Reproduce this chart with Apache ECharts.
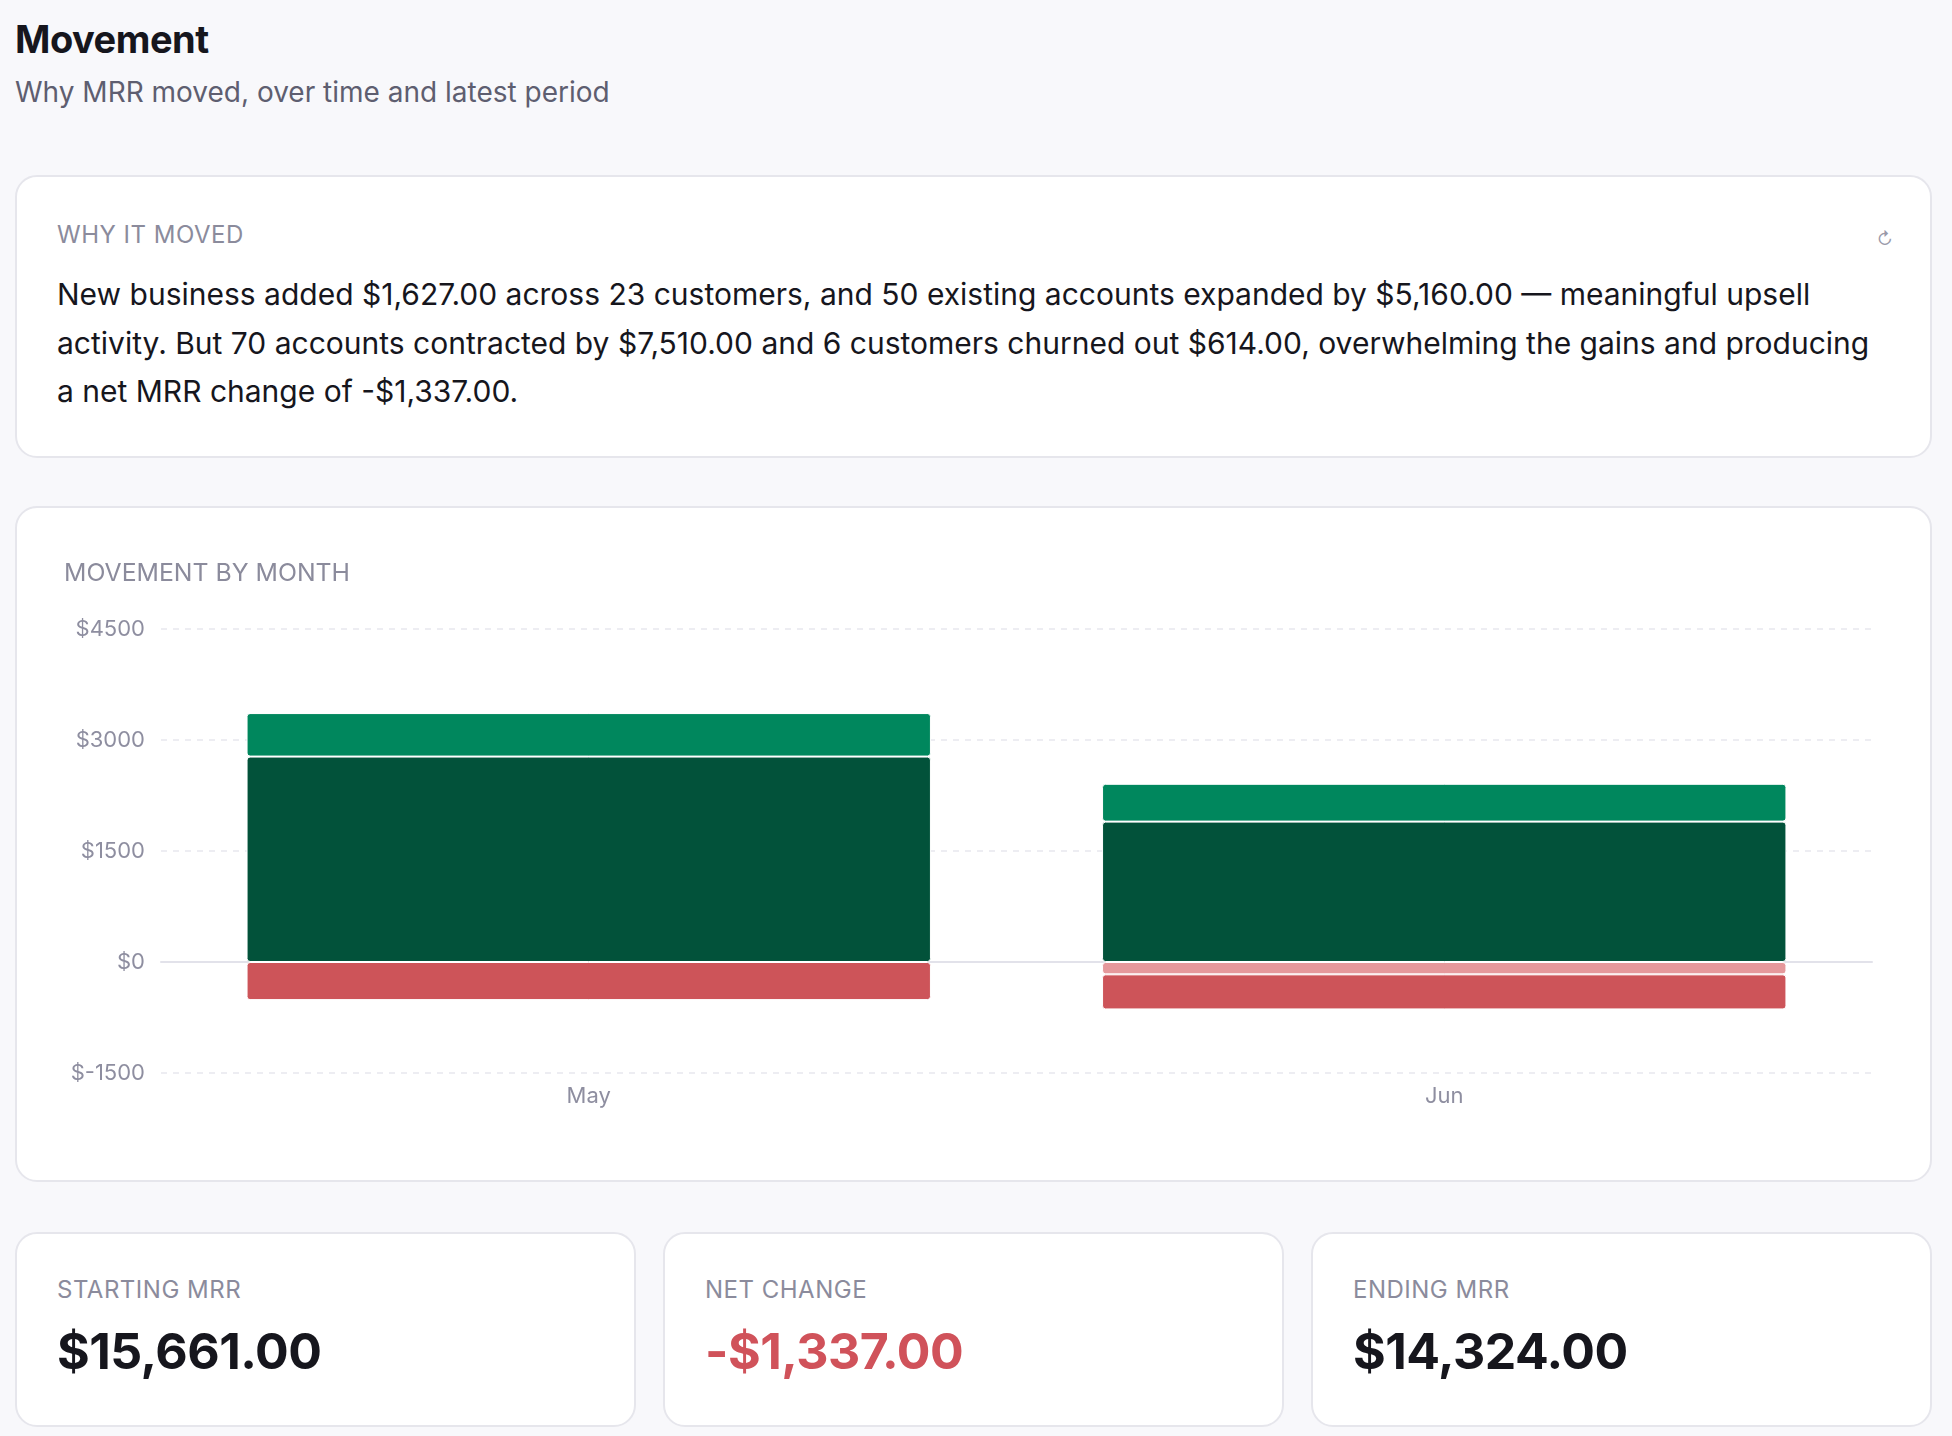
<!DOCTYPE html>
<html>
<head>
<meta charset="utf-8">
<script src="https://cdn.jsdelivr.net/npm/echarts@6/dist/echarts.min.js"></script>
<style>
  body { margin: 0; background: #f8f8fb; font-family: Inter, "Noto Sans", sans-serif; color: #16161d; }
  .page { padding: 0 20px 0 15px; }
  .title { font-size: 38px; font-weight: 700; line-height: 46px; padding-top: 16px; letter-spacing: -0.5px; }
  .subtitle { font-size: 28px; color: #5e5e70; line-height: 36px; margin-top: 12px; }
  .card { background: #fff; border: 2px solid #e6e6ec; border-radius: 22px; box-sizing: border-box; position: relative; }
  .why { height: 283px; margin-top: 65px; padding: 43px 40px 0 40px; }
  .label { font-size: 24px; color: #8b8b9c; letter-spacing: 0.5px; line-height: 30px; }
  .why p { margin: 20px 0 0 0; font-size: 30px; line-height: 48.5px; color: #16161d; }
  .refresh { position: absolute; right: 37px; top: 52px; font-size: 17px; color: #9a9aaa; }
  #chart { height: 676px; margin-top: 48px; }
  .stats { display: flex; gap: 27px; margin-top: 50px; }
  .stat { flex: 1; height: 195px; padding: 41px 40px 0 40px; }
  .stat .value { font-size: 50px; font-weight: 700; margin-top: 16px; letter-spacing: -0.5px; color: #16161d; }
  .stat .value.neg { color: #d0525a; }
</style>
</head>
<body>
<div class="page">
  <div class="title">Movement</div>
  <div class="subtitle">Why MRR moved, over time and latest period</div>

  <div class="card why">
    <div class="label">WHY IT MOVED</div>
    <span class="refresh">↻</span>
    <p>New business added $1,627.00 across 23 customers, and 50 existing accounts expanded by $5,160.00 — meaningful upsell activity. But 70 accounts contracted by $7,510.00 and 6 customers churned out $614.00, overwhelming the gains and producing a net MRR change of -$1,337.00.</p>
  </div>

  <div class="card" id="chart"></div>

  <div class="stats">
    <div class="card stat"><div class="label">STARTING MRR</div><div class="value">$15,661.00</div></div>
    <div class="card stat"><div class="label">NET CHANGE</div><div class="value neg">-$1,337.00</div></div>
    <div class="card stat"><div class="label">ENDING MRR</div><div class="value">$14,324.00</div></div>
  </div>
</div>

<script>
const months = ["May", "Jun"];
const expansion = [2776, 1897];
const newBusiness = [588, 511];
const churn = [0, -167];
const contraction = [-515, -474];

const chart = echarts.init(document.getElementById("chart"));

function barSeries(name, data, color) {
  return {
    name: name,
    type: "bar",
    stack: "mrr",
    data: data,
    barCategoryGap: "20%",
    itemStyle: { color: color, borderRadius: 3, borderColor: "#ffffff", borderWidth: 1 }
  };
}

chart.setOption({
  animation: false,
  title: {
    text: "MOVEMENT BY MONTH",
    left: 42,
    top: 48,
    textStyle: { fontFamily: "Inter", fontSize: 24.8, fontWeight: "normal", color: "#8b8b9c" }
  },
  grid: { left: 144, right: 58, top: 121, bottom: 107 },
  xAxis: {
    type: "category",
    data: months,
    axisTick: { show: false },
    axisLine: { lineStyle: { color: "#e2e2ea", width: 2 } },
    axisLabel: { fontFamily: "Inter", fontSize: 22, color: "#8e8ea0", margin: 12 }
  },
  yAxis: {
    type: "value",
    min: -1500,
    max: 4500,
    interval: 1500,
    axisLabel: { fontFamily: "Inter", fontSize: 22, color: "#8e8ea0", margin: 16, formatter: v => "$" + v },
    splitLine: { lineStyle: { color: "#e8e8ee", type: [6, 6], width: 1.5 } }
  },
  series: [
    barSeries("Expansion", expansion, "#02523a"),
    barSeries("New business", newBusiness, "#00875d"),
    barSeries("Churn", churn, "#e5989b"),
    barSeries("Contraction", contraction, "#cd5459")
  ]
});
</script>
</body>
</html>
